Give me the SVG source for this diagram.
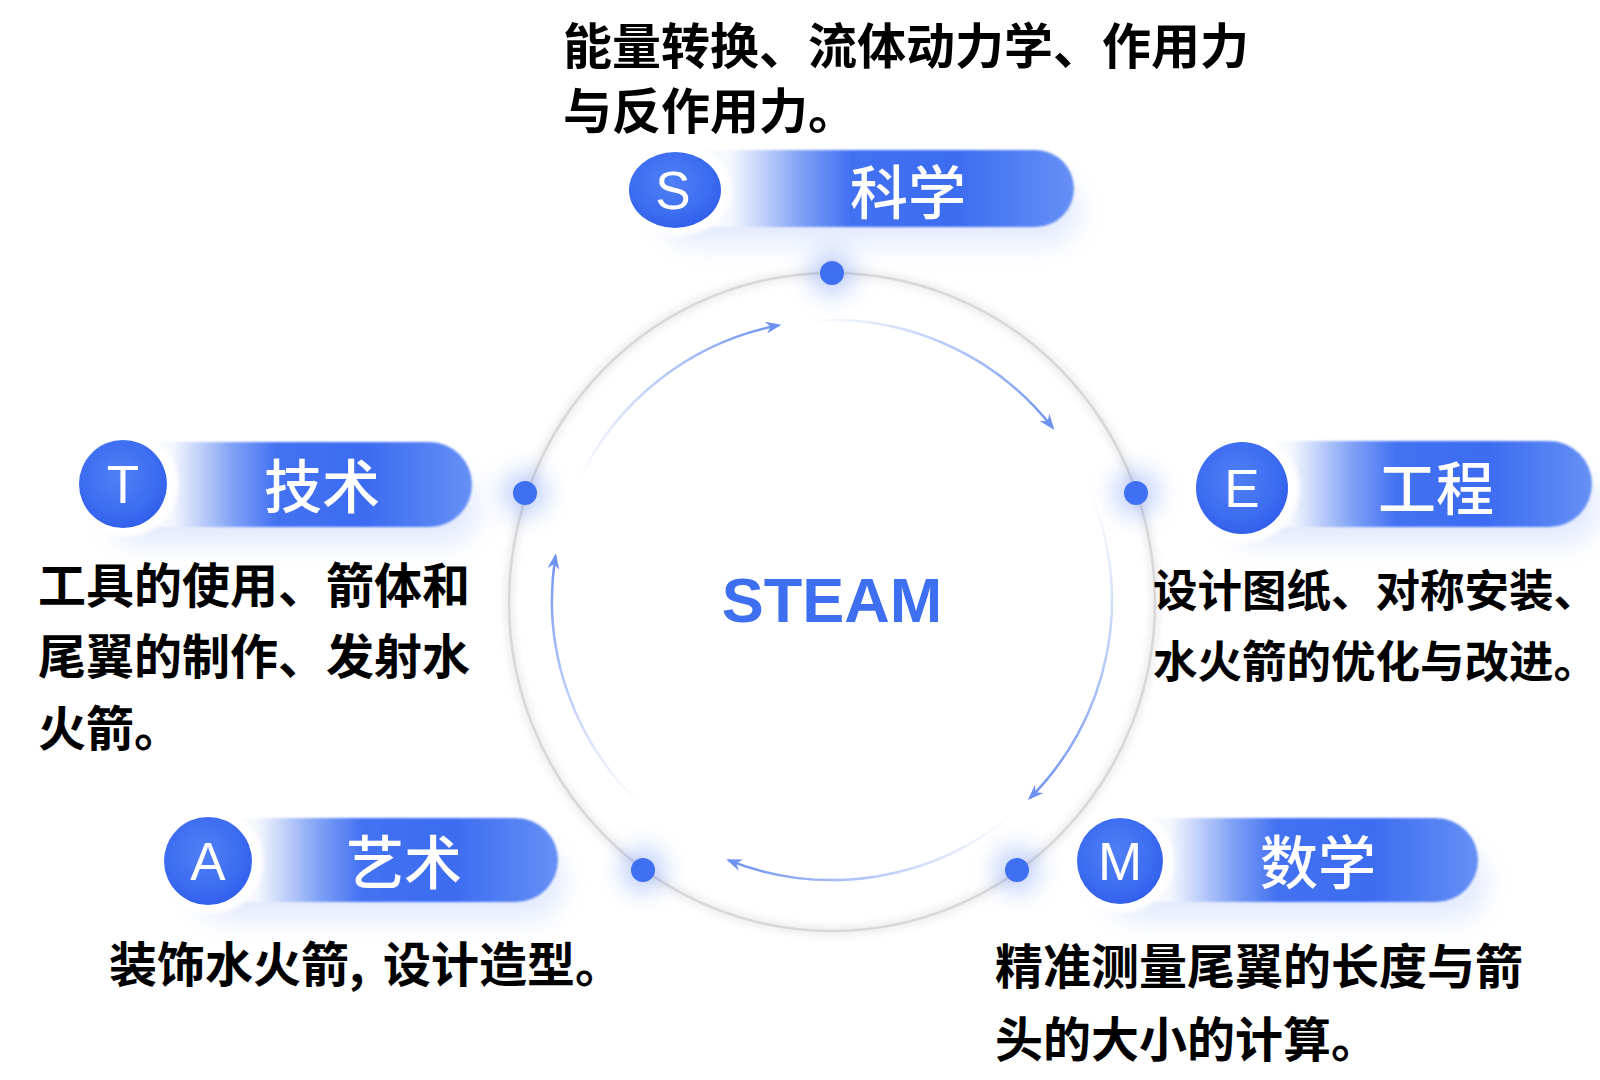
<svg xmlns="http://www.w3.org/2000/svg" width="1600" height="1080" viewBox="0 0 1600 1080">
<style>
.body{font-family:"Noto Sans CJK SC","Noto Sans",sans-serif;font-weight:700;font-size:48px;fill:#000}
.lab{font-family:"Noto Sans CJK SC","Noto Sans",sans-serif;font-weight:500;font-size:58px;fill:#fff;text-anchor:middle}
.let{font-family:"Liberation Sans","Noto Sans",sans-serif;font-size:53px;fill:#fff;text-anchor:middle}
.steam{font-family:"Liberation Sans","Noto Sans",sans-serif;font-weight:700;font-size:63px;fill:#3d6ff0;text-anchor:middle}
.arc{fill:none;stroke-width:2.5;marker-end:url(#ah)}
.dot{fill:#3f6ff2}
.dglow{fill:#4a79f3;opacity:0.35;filter:url(#blur12)}
.sh{fill:#c2d2fb;opacity:0.45;filter:url(#blur12)}
.ring{fill:#fff;filter:url(#blur2)}
.circ{fill:url(#cg)}
.bar{filter:url(#blur1)}
</style>
<defs>
<filter id="blur12" x="-50%" y="-50%" width="200%" height="200%"><feGaussianBlur stdDeviation="12"/></filter>
<filter id="blur2" x="-20%" y="-20%" width="140%" height="140%"><feGaussianBlur stdDeviation="2"/></filter>
<filter id="blur1" x="-5%" y="-10%" width="110%" height="120%"><feGaussianBlur stdDeviation="1"/></filter>
<filter id="blur4" x="-10%" y="-10%" width="120%" height="120%"><feGaussianBlur stdDeviation="4"/></filter>
<radialGradient id="cg" cx="45%" cy="40%" r="60%">
<stop offset="0" stop-color="#5080f5"/>
<stop offset="0.7" stop-color="#3d6df1"/>
<stop offset="1" stop-color="#3260ec"/>
</radialGradient>
<linearGradient id="bg" x1="0" y1="0" x2="1" y2="0">
<stop offset="0" stop-color="#ffffff"/>
<stop offset="0.14" stop-color="#f4f7fe"/>
<stop offset="0.2" stop-color="#cddafb"/>
<stop offset="0.32" stop-color="#7d9ff5"/>
<stop offset="0.44" stop-color="#4372f2"/>
<stop offset="0.7" stop-color="#3c6cf1"/>
<stop offset="1" stop-color="#6690f5"/>
</linearGradient>
<marker id="ah" viewBox="0 0 16 12" markerWidth="16" markerHeight="12" refX="13" refY="6" orient="auto" markerUnits="userSpaceOnUse">
<path d="M0,0 L16,6 L0,12 L5,6 z" fill="#6d92f2"/>
</marker>
<linearGradient id="a1" gradientUnits="userSpaceOnUse" x1="578" y1="482" x2="779" y2="325"><stop offset="0" stop-color="#7d9ff3" stop-opacity="0"/><stop offset="1" stop-color="#6d92f2"/></linearGradient>
<linearGradient id="a2" gradientUnits="userSpaceOnUse" x1="808" y1="321" x2="1053" y2="428"><stop offset="0" stop-color="#7d9ff3" stop-opacity="0"/><stop offset="1" stop-color="#6d92f2"/></linearGradient>
<linearGradient id="a3" gradientUnits="userSpaceOnUse" x1="1092" y1="495" x2="1030" y2="798"><stop offset="0" stop-color="#7d9ff3" stop-opacity="0"/><stop offset="1" stop-color="#6d92f2"/></linearGradient>
<linearGradient id="a4" gradientUnits="userSpaceOnUse" x1="1012" y1="815" x2="729" y2="860"><stop offset="0" stop-color="#7d9ff3" stop-opacity="0"/><stop offset="1" stop-color="#6d92f2"/></linearGradient>
<linearGradient id="a5" gradientUnits="userSpaceOnUse" x1="641" y1="805" x2="555" y2="556"><stop offset="0" stop-color="#7d9ff3" stop-opacity="0"/><stop offset="1" stop-color="#6d92f2"/></linearGradient>
</defs>
<rect width="1600" height="1080" fill="#fff"/>

<g id="ring">
<ellipse cx="832" cy="602" rx="323" ry="329" fill="none" stroke="#e4e4e4" stroke-width="6" filter="url(#blur4)"/>
<ellipse cx="832" cy="602" rx="323" ry="329" fill="none" stroke="#d8d8d8" stroke-width="2.5"/>
</g>

<g id="connectors">
<path class="arc" stroke="url(#a1)" d="M578.2,481.7 A280,280 0 0 1 778.6,325.2"/>
<path class="arc" stroke="url(#a2)" d="M807.6,321.1 A280,280 0 0 1 1052.6,427.6"/>
<path class="arc" stroke="url(#a3)" d="M1091.6,495.1 A280,280 0 0 1 1030.0,798.0"/>
<path class="arc" stroke="url(#a4)" d="M1012.0,814.5 A280,280 0 0 1 728.9,860.3"/>
<path class="arc" stroke="url(#a5)" d="M641.0,804.8 A280,280 0 0 1 555.4,556.2"/>
</g>

<g id="dots">
<circle class="dglow" cx="832" cy="273" r="22"/><circle class="dot" cx="832" cy="273" r="12"/>
<circle class="dglow" cx="525" cy="493" r="22"/><circle class="dot" cx="525" cy="493" r="12"/>
<circle class="dglow" cx="1136" cy="493" r="22"/><circle class="dot" cx="1136" cy="493" r="12"/>
<circle class="dglow" cx="643" cy="870" r="22"/><circle class="dot" cx="643" cy="870" r="12"/>
<circle class="dglow" cx="1017" cy="870" r="22"/><circle class="dot" cx="1017" cy="870" r="12"/>
</g>

<g id="center">
<text class="steam" x="832" y="622">STEAM</text>
</g>

<g id="node-S">
<rect class="sh" x="660" y="175" width="420" height="70" rx="35"/>
<rect class="bar" x="675" y="150" width="399" height="77" rx="38.5" fill="url(#bg)"/>
<ellipse class="ring" cx="677" cy="190" rx="55" ry="46"/>
<ellipse class="circ" cx="675" cy="190" rx="46" ry="38"/>
<text class="let" x="673" y="209">S</text>
<text class="lab" x="908" y="214">科学</text>
</g>

<g id="node-T">
<rect class="sh" x="105" y="470" width="375" height="75" rx="37"/>
<rect class="bar" x="123" y="442" width="349" height="85" rx="42.5" fill="url(#bg)"/>
<circle class="ring" cx="125" cy="484" r="53"/>
<circle class="circ" cx="123" cy="484" r="44"/>
<text class="let" x="123" y="503">T</text>
<text class="lab" x="322" y="508">技术</text>
</g>

<g id="node-E">
<rect class="sh" x="1225" y="470" width="375" height="75" rx="37"/>
<rect class="bar" x="1242" y="441" width="350" height="86" rx="43" fill="url(#bg)"/>
<circle class="ring" cx="1244" cy="488" r="55"/>
<circle class="circ" cx="1242" cy="488" r="46"/>
<text class="let" x="1242" y="507">E</text>
<text class="lab" x="1436" y="510">工程</text>
</g>

<g id="node-A">
<rect class="sh" x="190" y="845" width="375" height="75" rx="37"/>
<rect class="bar" x="208" y="818" width="350" height="84" rx="42" fill="url(#bg)"/>
<circle class="ring" cx="210" cy="861" r="53"/>
<circle class="circ" cx="208" cy="861" r="44"/>
<text class="let" x="208" y="880">A</text>
<text class="lab" x="404" y="884">艺术</text>
</g>

<g id="node-M">
<rect class="sh" x="1102" y="845" width="385" height="75" rx="37"/>
<rect class="bar" x="1120" y="818" width="358" height="84" rx="42" fill="url(#bg)"/>
<circle class="ring" cx="1122" cy="861" r="52"/>
<circle class="circ" cx="1120" cy="861" r="43"/>
<text class="let" x="1120" y="880">M</text>
<text class="lab" x="1318" y="884">数学</text>
</g>

<g id="texts">
<text class="body" style="font-size:49px"><tspan x="563" y="64">能量转换、流体动力学、作用力</tspan><tspan x="563" y="129">与反作用力。</tspan></text>
<text class="body"><tspan x="38" y="603">工具的使用、箭体和</tspan><tspan x="38" y="674">尾翼的制作、发射水</tspan><tspan x="38" y="746">火箭。</tspan></text>
<text class="body" style="font-size:44.5px"><tspan x="1153" y="607">设计图纸、对称安装、</tspan><tspan x="1153" y="678">水火箭的优化与改进。</tspan></text>
<text class="body"><tspan x="109" y="982">装饰水火箭,</tspan><tspan x="383" y="982">设计造型。</tspan></text>
<text class="body"><tspan x="995" y="984">精准测量尾翼的长度与箭</tspan><tspan x="995" y="1057">头的大小的计算。</tspan></text>
</g>
</svg>
